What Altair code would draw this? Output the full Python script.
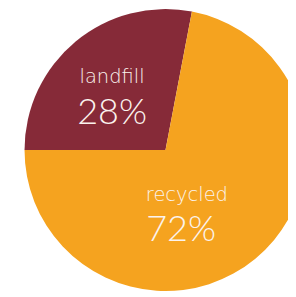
import altair as alt
import pandas as pd
import math

categories = ["landfill", "recycled"]
shares = [28, 72]
colors = ["#862A38", "#F5A31F"]

df = pd.DataFrame({"category": categories, "share": shares,
                   "order": [0, 1],
                   "pct": [f"{v}%" for v in shares]})

start = 1.5 * math.pi
CX, CY = 162, 142

pie = alt.Chart(df).mark_arc(radius=145, stroke=None).encode(
    theta=alt.Theta("share:Q", stack=True,
                    scale=alt.Scale(range=[start, start + 2 * math.pi])),
    order=alt.Order("order:Q"),
    color=alt.Color("category:N", scale=alt.Scale(domain=categories, range=colors), legend=None),
    x=alt.value(CX), y=alt.value(CY),
)

def label(cat, field, x, y, size, font, weight):
    return alt.Chart(df).transform_filter(alt.datum.category == cat).mark_text(
        font=font, fontWeight=weight, fontSize=size, color="#FBF3EE",
        align="center", baseline="alphabetic"
    ).encode(text=f"{field}:N", x=alt.value(x), y=alt.value(y))

chart = alt.layer(
    pie,
    label("landfill", "category", 107, 73, 20, "DejaVu Sans", 200),
    label("landfill", "pct", 107, 115, 37, "Lato", 300),
    label("recycled", "category", 184, 194, 20, "DejaVu Sans", 200),
    label("recycled", "pct", 178, 236, 37, "Lato", 300),
).properties(width=288, height=289, autosize=alt.AutoSizeParams(type="none"), padding=0
).configure_view(stroke=None)

chart.save("out.html", embed_options={"renderer": "svg", "actions": False})
